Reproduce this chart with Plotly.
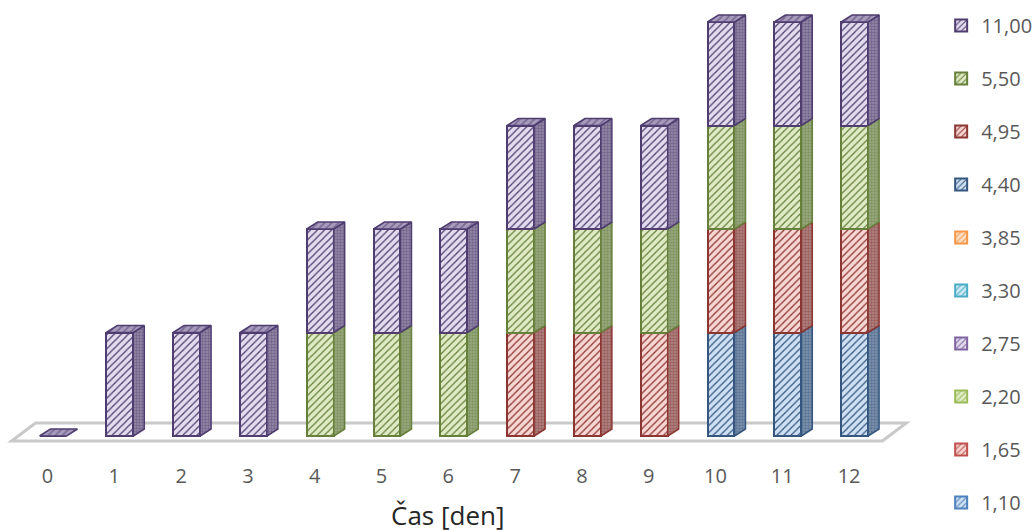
import plotly.graph_objects as go

days = list(range(13))
series_names = ["1,10", "1,65", "2,20", "2,75", "3,30", "3,85", "4,40", "4,95", "5,50", "11,00"]
v_110 = [0]*13
v_165 = [0]*13
v_220 = [0]*13
v_275 = [0]*13
v_330 = [0]*13
v_385 = [0]*13
v_440 = [0,0,0,0,0,0,0,0,0,0,1,1,1]
v_495 = [0,0,0,0,0,0,0,1,1,1,1,1,1]
v_550 = [0,0,0,0,1,1,1,1,1,1,1,1,1]
v_1100 = [0,1,1,1,1,1,1,1,1,1,1,1,1]
series_values = [v_110, v_165, v_220, v_275, v_330, v_385, v_440, v_495, v_550, v_1100]

line_colors = ["#4f81bd", "#c0504d", "#9bbb59", "#8064a2", "#4bacc6", "#f79646", "#35567f", "#8c3632", "#667f3a", "#4f3d70"]
bg_colors = ["#cfe0f3", "#f7d6d3", "#e0ebc6", "#e3dcee", "#cde9f2", "#fde0c7", "#cfe0f3", "#f7d6d3", "#e0ebc6", "#e3dcee"]
side_colors = ["#7f93ad", "#ad8280", "#94a678", "#8a7f9c", "#7fa8b3", "#c0a080", "#8094ad", "#ad8785", "#9aa983", "#958aa8"]

TEXT = "#595959"
FONT = "Open Sans"
BAR_W = 0.404
PX_X = 66.8
PX_Y = 103.5
DX = 11 / PX_X
DY = 7 / PX_Y

fig = go.Figure()

# floor
x_l, x_r = days[0] - 0.62, days[-1] + 0.415
floor_y = -5 / PX_Y
fig.add_shape(type="path", xref="x", yref="y", layer="below",
              path=f"M{x_l},{floor_y} L{x_l+24/PX_X},{floor_y+18/PX_Y} L{x_r+24/PX_X},{floor_y+18/PX_Y} L{x_r},{floor_y} Z",
              line=dict(color="#c9c9c9", width=3))

for rank, (name, vals, lc, bg) in enumerate(zip(series_names, series_values, line_colors, bg_colors)):
    fig.add_bar(x=days, y=vals, name=name, width=BAR_W, legendgroup=name, legendrank=1000 - rank,
                marker=dict(color=bg, line=dict(color=lc, width=2),
                            pattern=dict(shape="/", fgcolor=lc, bgcolor=bg, size=5, solidity=0.25, fillmode="replace")))

# side faces, derived from the stacked data
base = [0]*13
for name, vals, lc, sc in zip(series_names, series_values, line_colors, side_colors):
    xs, ys = [], []
    for i, v in enumerate(vals):
        if v:
            xr = days[i] + BAR_W/2
            b, t = base[i], base[i] + v
            xs += [xr, xr+DX, xr+DX, xr, xr, None]
            ys += [b, b+DY, t+DY, t, b, None]
            base[i] = t
    if xs:
        fig.add_scatter(x=xs, y=ys, mode="lines", showlegend=False, hoverinfo="skip",
                        fill="toself", fillcolor=sc, line=dict(color=lc, width=1.5),
                        fillpattern=dict(shape=".", fgcolor=lc, bgcolor=sc, size=3, solidity=0.5))

# top faces
xs, ys = [], []
for i in days:
    xa = days[i] - BAR_W/2
    xb = days[i] + BAR_W/2
    t = base[i]
    xs += [xa, xb, xb+DX, xa+DX, xa, None]
    ys += [t, t, t+DY, t+DY, t, None]
fig.add_scatter(x=xs, y=ys, mode="lines", showlegend=False, hoverinfo="skip",
                fill="toself", fillcolor=side_colors[-1], line=dict(color=line_colors[-1], width=1.5),
                fillpattern=dict(shape="/", fgcolor=line_colors[-1], bgcolor="#a79cbd", size=5, solidity=0.35))

fig.update_layout(
    width=1035, height=530, barmode="stack", bargap=0,
    margin=dict(l=0, r=105, t=10, b=85, autoexpand=False),
    plot_bgcolor="white", paper_bgcolor="white",
    font=dict(family=FONT, color=TEXT, size=20),
    showlegend=True,
    legend=dict(traceorder="grouped", tracegroupgap=24, x=1.012, xanchor="left", y=1.009, yanchor="top", maxheight=1000,
                font=dict(family=FONT, size=20, color=TEXT), bgcolor="rgba(0,0,0,0)"),
    xaxis=dict(range=[-53/PX_X, (930-53)/PX_X], showgrid=False, zeroline=False, showline=False,
               tickmode="array", tickvals=[d - 5.5/PX_X for d in days], ticktext=[str(d) for d in days],
               ticks="", tickfont=dict(family=FONT, size=20, color=TEXT), ticklabelstandoff=17),
    yaxis=dict(range=[-9/PX_Y, 426/PX_Y], showgrid=False, zeroline=False, showline=False, showticklabels=False, ticks=""),
    annotations=[dict(text="Čas [den]", xref="x", yref="paper", x=(447-53)/PX_X, y=-0.16, yanchor="middle",
                      showarrow=False, font=dict(family=FONT, size=26, color="#262626"))],
)
fig.write_html("out.html", config={"displayModeBar": False}, post_script="document.body.style.margin='0';")
